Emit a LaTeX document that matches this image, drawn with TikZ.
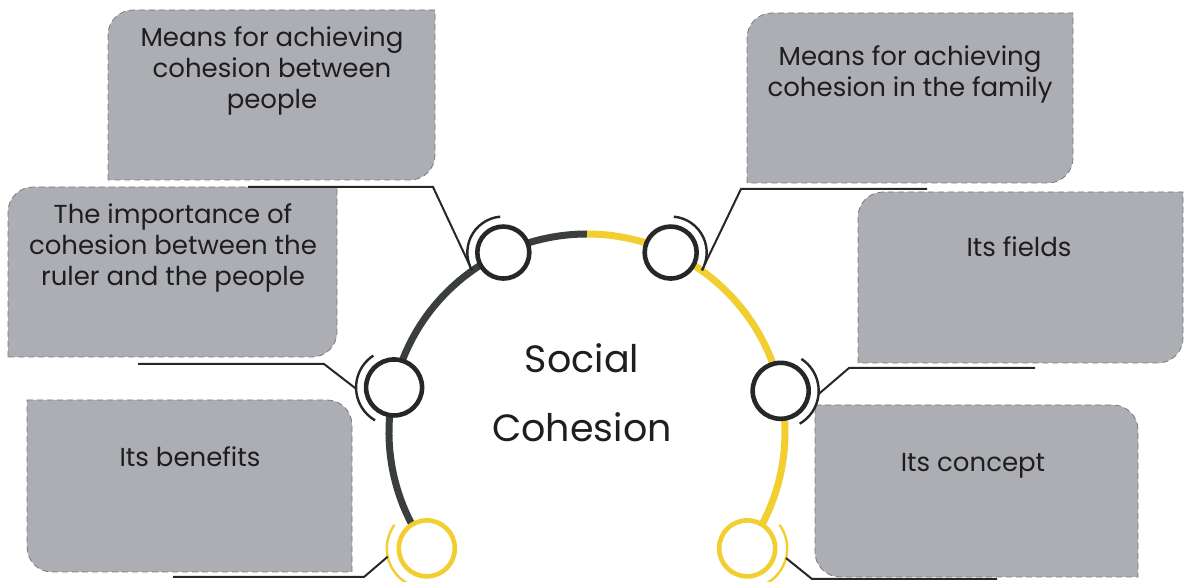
\documentclass[tikz,border=0pt]{standalone}
\usepackage{fontspec}
\setmainfont{Poppins}
\definecolor{boxgray}{RGB}{172,174,180}
\definecolor{boxedge}{RGB}{120,122,126}
\definecolor{darkarc}{RGB}{58,62,62}
\definecolor{ringdark}{RGB}{38,40,40}
\definecolor{yellowarc}{RGB}{242,206,48}
\definecolor{txt}{RGB}{30,30,30}
\newcommand\boxTLBR[4]{\path[boxshape] (#1,-#4) -- (#1,-#2-25) arc[start angle=180,end angle=90,radius=12.5pt] -- (#3,-#2) -- (#3,-#4+25) arc[start angle=0,end angle=-90,radius=12.5pt] -- cycle;}
\newcommand\boxTRBL[4]{\path[boxshape] (#1,-#2) -- (#3-25,-#2) arc[start angle=90,end angle=0,radius=12.5pt] -- (#3,-#4) -- (#1+25,-#4) arc[start angle=270,end angle=180,radius=12.5pt] -- cycle;}
\tikzset{
  boxshape/.style={fill=boxgray, draw=boxedge, densely dashed, line width=0.4pt},
  boxtext/.style={text=txt, align=center, inner sep=0pt, font=\fontsize{13}{15.5}\selectfont},
  centertext/.style={text=txt, inner sep=0pt, anchor=base, font=\fontsize{19}{23}\selectfont},
  marker/.style={circle, fill=white, draw=ringdark, line width=2.3pt, inner sep=0pt, minimum size=#1},
  ymarker/.style={circle, fill=white, draw=yellowarc, line width=2.3pt, inner sep=0pt, minimum size=#1},
  bracket/.style={draw=ringdark, line width=1.2pt},
  ybracket/.style={draw=yellowarc, line width=1.2pt},
  leader/.style={draw=ringdark, line width=1pt},
}
\begin{document}
\begin{tikzpicture}[x=0.5pt,y=0.5pt]
\useasboundingbox (0,0) rectangle (1185,-582);
\fill[white] (0,0) rectangle (1185,-582);
\clip (0,0) rectangle (1185,-582);

% boxes
\boxTLBR{108}{10}{435}{180}
\boxTLBR{8}{187}{337}{357}
\boxTRBL{27}{400}{352}{572}
\boxTLBR{747}{13}{1073}{183}
\boxTLBR{858}{192}{1183}{363}
\boxTRBL{815}{405}{1138}{577}

% box texts
\node[boxtext, anchor=north] (t1) at (272,-26) {Means for achieving\\cohesion between\\people};
\node[boxtext, anchor=north] (t2) at (173,-203) {The importance of\\cohesion between the\\ruler and the people};
\node[boxtext, anchor=base] (t3) at (190,-467) {Its benefits};
\node[boxtext, anchor=north] (t4) at (910,-45) {Means for achieving\\cohesion in the family};
\node[boxtext, anchor=base] (t5) at (1019,-257) {Its fields};
\node[boxtext, anchor=base] (t6) at (973,-472) {Its concept};

% main arc
\coordinate (O) at (587,-432);
\draw[darkarc, line width=3.5pt] ([shift={(216:99pt)}]O) arc[start angle=216, end angle=90, radius=99pt];
\draw[yellowarc, line width=3.5pt] ([shift={(90:99pt)}]O) arc[start angle=90, end angle=-36, radius=99pt];

% markers
\node[marker=26pt] (m1) at ([shift={(115:99pt)}]O) {};
\node[marker=26pt] (m2) at ([shift={(65:99pt)}]O) {};
\node[marker=28pt] (m3) at ([shift={(167:99pt)}]O) {};
\node[marker=28pt] (m4) at ([shift={(12:99pt)}]O) {};
\node[ymarker=28pt] (m5) at ([shift={(216:99pt)}]O) {};
\node[ymarker=28pt] (m6) at ([shift={(-36:99pt)}]O) {};

% brackets
\draw[bracket] ([shift={(95:18pt)}]m1.center) arc[start angle=95, end angle=210, radius=18pt];
\draw[bracket] ([shift={(85:18pt)}]m2.center) arc[start angle=85, end angle=-30, radius=18pt];
\draw[bracket] ([shift={(123:19pt)}]m3.center) arc[start angle=123, end angle=240, radius=19pt];
\draw[bracket] ([shift={(57:19pt)}]m4.center) arc[start angle=57, end angle=-60, radius=19pt];
\draw[ybracket] ([shift={(144:20pt)}]m5.center) arc[start angle=144, end angle=260, radius=20pt];
\draw[ybracket] ([shift={(36:20pt)}]m6.center) arc[start angle=36, end angle=-80, radius=20pt];

% leaders
\coordinate (a1) at (248,-187); \coordinate (k1) at (433,-187);
\coordinate (e1) at ([shift={(200:18pt)}]m1.center);
\draw[leader] (a1) -- (k1) -- (e1);
\coordinate (a2) at (927,-189); \coordinate (k2) at (741,-189);
\coordinate (e2) at ([shift={(-20:18pt)}]m2.center);
\draw[leader] (a2) -- (k2) -- (e2);
\coordinate (a3) at (138,-364); \coordinate (k3) at (324,-364);
\coordinate (e3) at ([shift={(182:19pt)}]m3.center);
\draw[leader] (a3) -- (k3) -- (e3);
\coordinate (a4) at (1035,-368); \coordinate (k4) at (849,-368);
\coordinate (e4) at ([shift={(-5:19pt)}]m4.center);
\draw[leader] (a4) -- (k4) -- (e4);
\coordinate (a5) at (173,-577); \coordinate (k5) at (364,-577);
\coordinate (e5) at ([shift={(192:20pt)}]m5.center);
\draw[leader] (a5) -- (k5) -- (e5);
\coordinate (a6) at (997,-579); \coordinate (k6) at (812,-579);
\coordinate (e6) at ([shift={(-14:20pt)}]m6.center);
\draw[leader] (a6) -- (k6) -- (e6);

% center title
\node[centertext] (s1) at (582,-373) {Social};
\node[centertext] (s2) at (582,-442) {Cohesion};
\end{tikzpicture}
\end{document}
